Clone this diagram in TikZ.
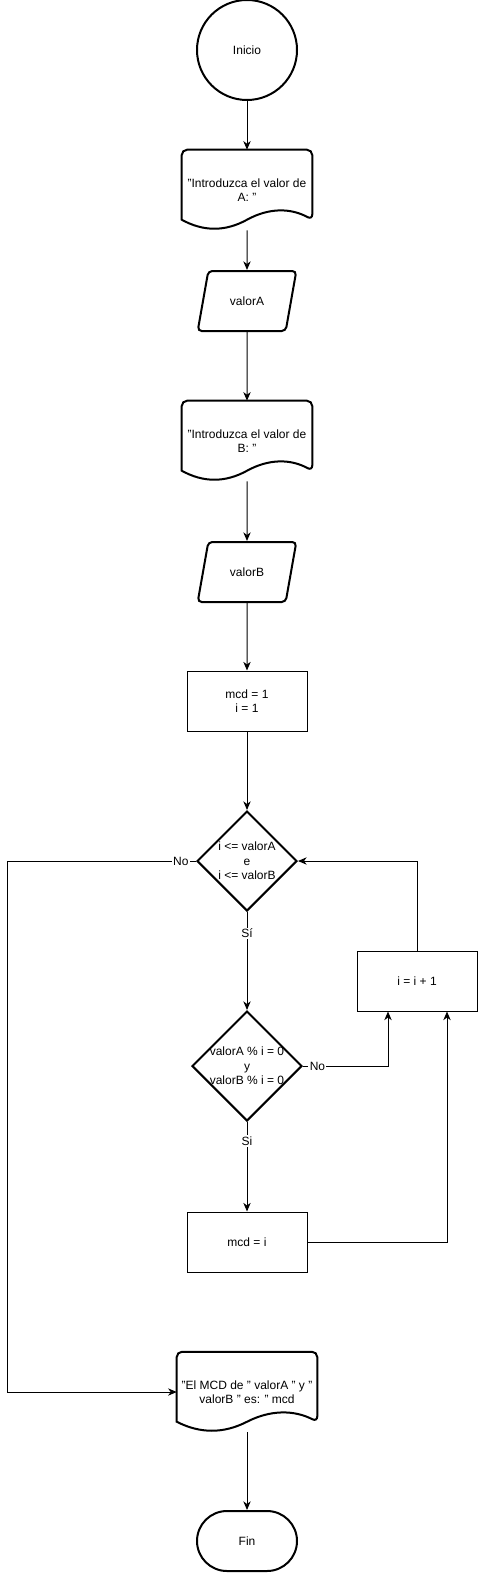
\documentclass[tikz,border=0pt]{standalone}
\usepackage{fontspec}
\setmainfont{Liberation Sans}
\usetikzlibrary{calc, shapes.geometric, arrows.meta}

% document symbol drawn round an invisible node
\newcommand{\docshape}[1]{%
    \draw[heavyline] ($(#1.north west)+(0,70)$) [rounded corners=4pt] -- (#1.north west) -- (#1.north east) -- ($(#1.north east)+(0,70)$) [sharp corners]
        .. controls ($(#1.north west)!0.8333!(#1.north east)+(0,58)$) and ($(#1.north west)!0.6667!(#1.north east)+(0,58)$) .. ($(#1.north)+(0,70)$)
        .. controls ($(#1.north west)!0.3333!(#1.north east)+(0,82)$) and ($(#1.north west)!0.1667!(#1.north east)+(0,82)$) .. ($(#1.north west)+(0,70)$) -- cycle;
}

\begin{document}
\begin{tikzpicture}[x=0.75pt, y=-0.75pt, font=\fontsize{9}{10.8}\selectfont,
    heavyline/.style={draw, line width=1.5pt},
    thickshape/.style={heavyline, align=center},
    procbox/.style={draw, line width=0.75pt, minimum width=90pt, minimum height=45pt, align=center},
    docnode/.style={minimum height=60pt, align=center, inner sep=0pt},
    inputbox/.style={thickshape, trapezium, trapezium left angle=71.6, trapezium right angle=108.4,
        trapezium stretches=true, rounded corners=3pt, minimum width=74.25pt, minimum height=45pt},
    decision/.style={heavyline, diamond, inner sep=0pt},
    flow/.style={line width=0.75pt, -{Stealth[length=6.5pt, width=5.5pt, inset=2pt]}},
    lbl/.style={fill=white, inner sep=1pt}]
    \useasboundingbox (0,0) rectangle (478,1573);

    % Start
    \node[thickshape, circle, minimum size=75pt] (ini) at (247,50) {Inicio};
    % Reading the two values
    \node[docnode, minimum width=97.5pt] (doc1) at (247,190) {"Introduzca el valor de\\A: "};
    \docshape{doc1}
    \node[inputbox] (inA) at (247,301) {valorA};
    \node[docnode, minimum width=97.5pt] (doc2) at (247,441) {"Introduzca el valor de\\B: "};
    \docshape{doc2}
    \node[inputbox] (inB) at (247,572) {valorB};
    \node[procbox] (init) at (247,701) {mcd = 1\\i = 1};

    % Loop
    \node[decision, minimum size=75pt] (d1) at (247,861) {};
    \node[align=center] (d1t) at (d1) {i <= valorA\\e\\i <= valorB};
    \node[decision, minimum size=82.5pt] (d2) at (247,1066) {};
    \node[align=center] (d2t) at (d2) {valorA \% i = 0\\y\\valorB \% i = 0};
    \node[procbox] (inc) at (417,981) {i = i + 1};
    \node[procbox] (upd) at (247,1242) {mcd = i};

    % Output and end
    \node[docnode, minimum width=105pt] (doc3) at (247,1392) {"El MCD de " valorA " y "\\valorB " es: " mcd};
    \docshape{doc3}
    \node[thickshape, rectangle, rounded corners=22.5pt, minimum width=75pt, minimum height=45pt] (fin) at (247,1541) {Fin};

    % Straight arrows
    \foreach \a/\b in {ini/doc1, doc1/inA, inA/doc2, doc2/inB, inB/init, init/d1, doc3/fin}
        \draw[flow] (\a.south) -- (\b.north);
    \draw[flow] (d1.south) -- node[lbl, pos=0.22] (si1) {Sí} (d2.north);
    \draw[flow] (d2.south) -- node[lbl, pos=0.21] (si2) {Si} (upd.north);

    % Back to the loop test
    \coordinate (incL) at ($(inc.south)+(-29,0)$);
    \coordinate (incR) at ($(inc.south)+(30,0)$);
    \draw[flow] (d2.east) -- node[lbl, pos=0.17] (no2) {No} (d2.east -| incL) -- (incL);
    \draw[flow] (upd.east) -| (incR);
    \draw[flow] (inc.north) |- (d1.east);

    % Exit of the loop
    \coordinate (exitL) at (7,861);
    \draw[flow] (d1.west) -- node[lbl, pos=0.08] (no1) {No} (exitL) |- (doc3.west);
\end{tikzpicture}
\end{document}
